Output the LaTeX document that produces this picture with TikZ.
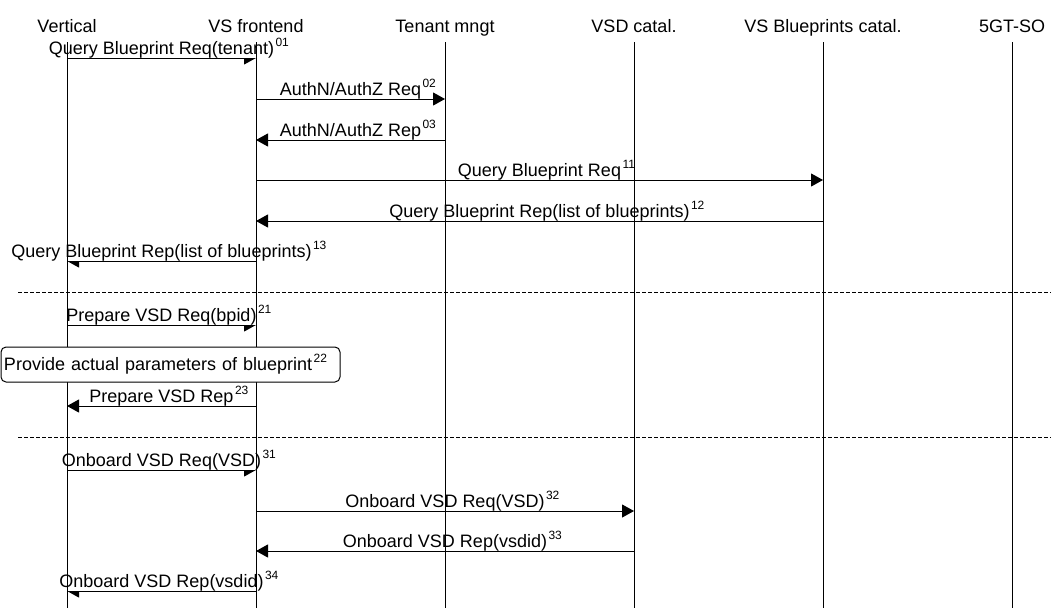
\documentclass[tikz,border=0pt]{standalone}
\usepackage{fontspec}
\setmainfont{Liberation Sans}
\usepackage{tikz}
\usetikzlibrary{arrows.meta}
\tikzset{
  entity/.style={anchor=base, inner sep=0pt, font=\fontsize{18}{20}\selectfont},
  lifeline/.style={line width=1pt},
  msg/.style={line width=1pt, -{Triangle[length=12pt,width=13pt]}},
  lbl/.style={anchor=base, yshift=4pt, inner xsep=1pt, inner ysep=0pt,
              text depth=3.5pt, fill=white, font=\fontsize{18}{20}\selectfont},
  sepline/.style={line width=1pt, dash pattern=on 4pt off 2pt},
  notebox/.style={draw, line width=1pt, fill=white, rounded corners=5pt,
                  text width=333pt, align=left, minimum height=35pt,
                  inner xsep=3pt, inner ysep=0pt,
                  font=\fontsize{18}{20}\selectfont},
}
\newcommand{\msgno}[1]{\kern1.5pt\raisebox{8pt}{\fontsize{12}{12}\selectfont #1}}
\newcommand{\msgid}[1]{\rlap{\msgno{#1}}}

\begin{document}
\begin{tikzpicture}[x=1pt, y=-1pt]
  \useasboundingbox (0,0) rectangle (1051,608);

  % entities
  \node[entity] (vert) at (67,32)   {Vertical};
  \node[entity] (vsf)  at (256,32)  {VS frontend};
  \node[entity] (ten)  at (445,32)  {Tenant mngt};
  \node[entity] (vsd)  at (634,32)  {VSD catal.};
  \node[entity] (bp)   at (823,32)  {VS Blueprints catal.};
  \node[entity] (so)   at (1012,32) {5GT-SO};

  \coordinate (top)  at (0,42);
  \coordinate (bot)  at (0,608);
  \coordinate (edge) at (1051,0);

  % rows
  \coordinate (r01) at (0,58);
  \coordinate (r02) at (0,99);
  \coordinate (r03) at (0,140);
  \coordinate (r11) at (0,180);
  \coordinate (r12) at (0,221);
  \coordinate (r13) at (0,261);
  \coordinate (sepA) at (18,292);
  \coordinate (r21) at (0,325);
  \coordinate (r23) at (0,406);
  \coordinate (sepB) at (18,437);
  \coordinate (r31) at (0,470);
  \coordinate (r32) at (0,511);
  \coordinate (r33) at (0,551);
  \coordinate (r34) at (0,591);

  % query blueprint
  \draw[msg] (vert |- r01) -- node[lbl] {Query Blueprint Req(tenant)\msgid{01}} (vsf |- r01);
  \draw[msg] (vsf |- r02) -- node[lbl] {AuthN/AuthZ Req\msgid{02}} (ten |- r02);
  \draw[msg] (ten |- r03) -- node[lbl] {AuthN/AuthZ Rep\msgid{03}} (vsf |- r03);
  \draw[msg] (vsf |- r11) -- node[lbl] {Query Blueprint Req\msgid{11}} (bp |- r11);
  \draw[msg] (bp |- r12) -- node[lbl] {Query Blueprint Rep(list of blueprints)\msgid{12}} (vsf |- r12);
  \draw[msg] (vsf |- r13) -- node[lbl] {Query Blueprint Rep(list of blueprints)\msgid{13}} (vert |- r13);

  % prepare VSD
  \draw[msg] (vert |- r21) -- node[lbl] {Prepare VSD Req(bpid)\msgid{21}} (vsf |- r21);
  \draw[msg] (vsf |- r23) -- node[lbl] {Prepare VSD Rep\msgid{23}} (vert |- r23);

  % onboard VSD
  \draw[msg] (vert |- r31) -- node[lbl] {Onboard VSD Req(VSD)\msgid{31}} (vsf |- r31);
  \draw[msg] (vsf |- r32) -- node[lbl] {Onboard VSD Req(VSD)\msgid{32}} (vsd |- r32);
  \draw[msg] (vsd |- r33) -- node[lbl] {Onboard VSD Rep(vsdid)\msgid{33}} (vsf |- r33);
  \draw[msg] (vsf |- r34) -- node[lbl] {Onboard VSD Rep(vsdid)\msgid{34}} (vert |- r34);

  % lifelines
  \foreach \e in {vert,vsf,ten,vsd,bp,so}
    \draw[lifeline] (\e |- top) -- (\e |- bot);

  % separators
  \draw[sepline] (sepA) -- (sepA -| edge);
  \draw[sepline] (sepB) -- (sepB -| edge);

  \node[notebox] (n22) at (170.5,364.5) {Provide actual parameters of blueprint\msgno{22}};
\end{tikzpicture}
\end{document}
